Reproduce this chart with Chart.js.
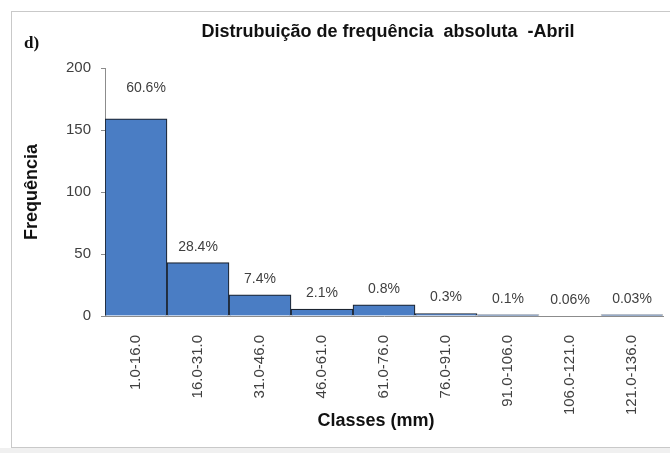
<html lang="pt">

<head>
  <meta charset="utf-8">
  <script src="https://cdn.jsdelivr.net/npm/chart.js"></script>
  <style>
    body { margin: 0; background: #fff; }
    #wrap { position: absolute; left: 0; top: 0; width: 670px; height: 453px; }
  </style>
</head>

<body>
  <div id="wrap">
    <canvas id="graficoAbril" width="670" height="453"></canvas>
  </div>

  <script>
    // classes de chuva (mm) e frequencia absoluta
    const classes = ['1.0-16.0', '16.0-31.0', '31.0-46.0', '46.0-61.0', '61.0-76.0',
      '76.0-91.0', '91.0-106.0', '106.0-121.0', '121.0-136.0'];
    const frequencia = [159, 43, 17, 5.5, 9, 2, 1, 0, 1];
    const percentuais = ['60.6%', '28.4%', '7.4%', '2.1%', '0.8%', '0.3%', '0.1%', '0.06%', '0.03%'];
    const ticksY = [0, 50, 100, 150, 200];

    const fonte = '"Liberation Sans", Arial, sans-serif';

    // moldura, titulos e rotulos de percentual
    const extras = {
      id: 'extras',
      beforeDraw(chart) {
        const ctx = chart.ctx;
        ctx.save();
        ctx.fillStyle = '#f0f0f0';
        ctx.fillRect(0, 448, 670, 5);
        ctx.strokeStyle = '#c9c9c9';
        ctx.lineWidth = 1;
        ctx.strokeRect(11.5, 11.5, 700, 436);
        ctx.restore();
      },
      afterDatasetsDraw(chart) {
        const ctx = chart.ctx;
        const barras = chart.getDatasetMeta(0).data;
        ctx.save();
        ctx.font = '14px ' + fonte;
        ctx.fillStyle = '#404040';
        ctx.textAlign = 'center';
        ctx.textBaseline = 'middle';
        barras.forEach((b, i) => {
          const lift = i === 0 ? 31 : 16;
          ctx.fillText(percentuais[i], b.x + (i === 0 ? 10 : 0), b.y - lift);
        });

        ctx.fillStyle = '#111';
        ctx.font = 'bold 18px ' + fonte;
        ctx.fillText('Distrubuição de frequência  absoluta  -Abril', 388, 32);
        ctx.fillText('Classes (mm)', 376, 421);

        ctx.textAlign = 'left';
        ctx.font = 'bold 17px "Liberation Serif", "DejaVu Serif", serif';
        ctx.fillText('d)', 24, 44);
        ctx.restore();
      }
    };

    new Chart(document.getElementById('graficoAbril'), {
      type: 'bar',
      data: {
        labels: classes,
        datasets: [{
          label: 'Frequência',
          data: frequencia,
          backgroundColor: '#4a7dc4',
          borderColor: '#1c2430',
          borderWidth: 1.2,
          barPercentage: 1,
          categoryPercentage: 1
        }]
      },
      options: {
        responsive: false,
        animation: false,
        layout: {
          padding: { left: 12, right: 7, top: 68, bottom: 19 }
        },
        plugins: {
          legend: { display: false },
          tooltip: { enabled: false }
        },
        scales: {
          x: {
            grid: { display: false },
            border: { color: '#8c8c8c', width: 1 },
            ticks: {
              color: '#404040',
              font: { family: fonte, size: 15 },
              maxRotation: 90,
              minRotation: 90,
              padding: 11
            },
            afterFit(scale) { scale.height = 118; }
          },
          y: {
            min: 0,
            max: 200,
            afterBuildTicks(scale) { scale.ticks = ticksY.map(v => ({ value: v })); },
            grid: { drawOnChartArea: false, drawTicks: true, tickLength: 4, color: '#8c8c8c' },
            border: { color: '#8c8c8c', width: 1 },
            ticks: {
              color: '#404040',
              font: { family: fonte, size: 15 },
              padding: 10
            },
            title: {
              display: true,
              text: 'Frequência',
              color: '#111',
              font: { family: fonte, size: 18, weight: 'bold' },
              padding: { top: 9, bottom: 0 }
            },
            afterFit(scale) { scale.width = 93; }
          }
        }
      },
      plugins: [extras]
    });
  </script>
</body>

</html>
